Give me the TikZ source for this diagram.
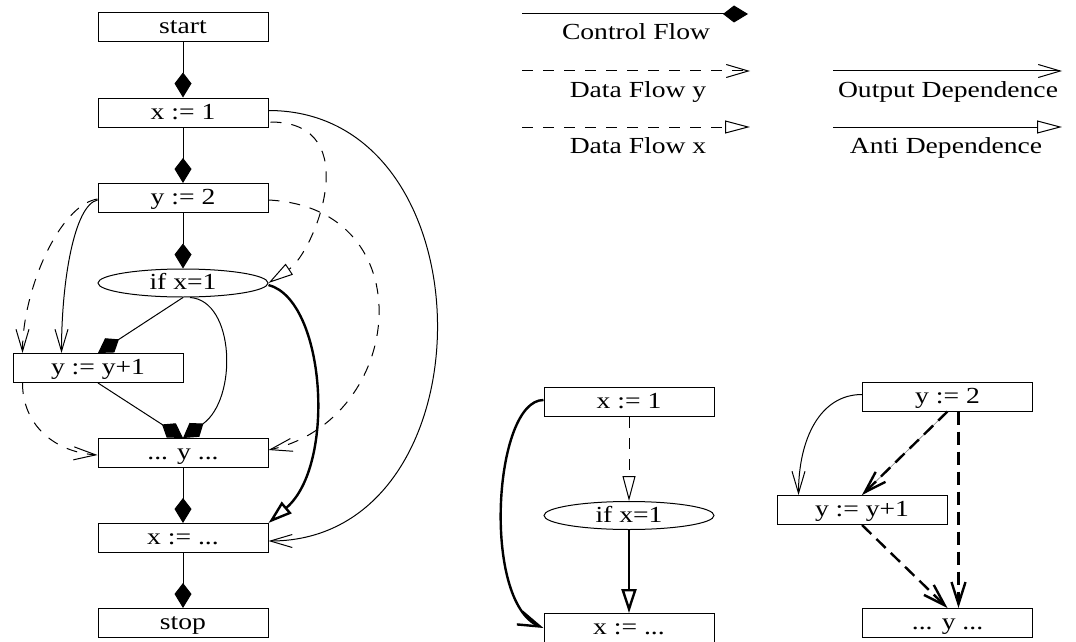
\documentclass[tikz,border=0pt]{standalone}
\usepackage{fontspec}
\setmainfont{Liberation Serif}[FakeStretch=1.2]
\usetikzlibrary{arrows.meta,shapes.geometric,calc}

\tikzset{
  stmt/.style={draw, line width=1pt, rectangle, minimum width=170pt, minimum height=29pt,
    inner sep=0pt, text height=16pt, text depth=3pt},
  cond/.style={draw, line width=1pt, ellipse, minimum width=170pt, minimum height=28pt,
    inner sep=0pt, text height=16pt, text depth=3pt},
  legendtext/.style={inner sep=0pt, text height=16pt, text depth=3pt},
  ctrl/.style={line width=1pt, -{Kite[length=25pt,width=17pt,inset=11pt]}},
  dfy/.style={line width=1pt, dash pattern=on 11pt off 10pt, -{Straight Barb[length=22pt,width=13pt]}},
  dfx/.style={line width=1pt, dash pattern=on 11pt off 10pt, -{Triangle[open,length=25pt,width=13pt]}},
  outdep/.style={line width=1pt, -{Straight Barb[length=22pt,width=13pt]}},
  antidep/.style={line width=1pt, -{Triangle[open,length=25pt,width=13pt]}},
  thickanti/.style={line width=2.4pt, -{Triangle[open,length=24pt,width=15pt]}},
  thickout/.style={line width=2.4pt, -{Straight Barb[length=22pt,width=14pt]}},
  thickdfy/.style={line width=2.4pt, dash pattern=on 13pt off 7pt, -{Straight Barb[length=22pt,width=14pt]}},
}

\begin{document}
\begin{tikzpicture}[x=1pt,y=-1pt,font=\fontsize{23pt}{27pt}\selectfont]
\useasboundingbox (0,0) rectangle (1076,642);

% ---------- full flow graph ----------
\node[stmt] (start) at (183,27) {start};
\node[stmt] (x1) at (183,112.5) {x := 1};
\node[stmt] (y2) at (183,198) {y := 2};
\node[cond] (if) at (183,283) {if x=1};
\node[stmt] (yy) at (98,368) {y := y+1};
\node[stmt] (dy) at (183,453) {... y ...};
\node[stmt] (xd) at (183,538) {x := ...};
\node[stmt] (stop) at (183,623) {stop};

% control flow
\draw[ctrl] (start) -- (x1);
\draw[ctrl] (x1) -- (y2);
\draw[ctrl] (y2) -- (if);
\draw[ctrl] (if.south) -- (yy.north);
\draw[ctrl] ($(if.south)+(7,0)$) .. controls +(45,3) and +(55,-39) .. (dy.north);
\draw[ctrl] (yy.south) -- (dy.north);
\draw[ctrl] (dy) -- (xd);
\draw[ctrl] (xd) -- (stop);

% data flow and dependences
\draw[dfx] ($(x1.east)+(2,9.5)$) .. controls +(97,0) and +(45,-30) .. (if.east);
\draw[dfy] ($(y2.west)+(0,1)$) .. controls +(-38,6) and +(0,-63) .. ($(yy.north west)+(10,0)$);
\draw[outdep] ($(y2.west)+(0,2)$) .. controls +(-23,5) and +(0,-73) .. ($(yy.north west)+(49,0)$);
\draw[dfy] ($(yy.south west)+(10,0)$) .. controls +(0,42) and +(-43,-3) .. ($(dy.west)+(0,2)$);
\draw[dfy] ($(y2.east)+(0,2)$) .. controls +(157,8) and +(137,-30) .. ($(dy.east)+(0,-3)$);
\draw[outdep] ($(x1.east)+(0,-2)$) .. controls +(225,0) and +(225,0) .. ($(xd.east)+(0,3)$);
\draw[thickanti] ($(if.east)+(0,2)$) .. controls +(57,15) and +(68,-58) .. (xd.north east);

% ---------- x dependences ----------
\node[stmt] (mx1) at (629,402) {x := 1};
\node[cond] (mif) at (629,515.5) {if x=1};
\node[stmt] (mxd) at (629,628) {x := ...};
\draw[dfx] (mx1) -- (mif);
\draw[thickanti] (mif) -- (mxd);
\draw[thickout] ($(mx1.west)+(0,-2)$) .. controls +(-50,0) and +(-62,-26) .. (mxd.west);

% ---------- y dependences ----------
\node[stmt] (ry2) at (947.5,396.5) {y := 2};
\node[stmt] (ryy) at (862,510) {y := y+1};
\node[stmt] (rdy) at (947.5,623) {... y ...};
\draw[outdep] ($(ry2.west)+(0,-2)$) .. controls +(-42,0) and +(0,-56) .. ($(ryy.north west)+(22,0)$);
\draw[line width=0.6pt, gray] (ry2.south) -- (ryy.north);
\draw[thickdfy] (ry2.south) -- (ryy.north);
\draw[thickdfy] (ryy.south) -- (rdy.north);
\draw[thickdfy] ($(ry2.south)+(11,0)$) -- ($(rdy.north)+(11,0)$);

% ---------- legend ----------
\coordinate (lc0) at (522,14);  \coordinate (lc1) at (748,14);
\coordinate (ly0) at (522,71);  \coordinate (ly1) at (750,71);
\coordinate (lx0) at (522,127); \coordinate (lx1) at (750,127);
\coordinate (lo0) at (833,71);  \coordinate (lo1) at (1062,71);
\coordinate (la0) at (833,127); \coordinate (la1) at (1062,127);
\draw[ctrl] (lc0) -- (lc1);
\draw[dfy] (ly0) -- (ly1);
\draw[dfx] (lx0) -- (lx1);
\draw[outdep] (lo0) -- (lo1);
\draw[antidep] (la0) -- (la1);
\node[legendtext] (tc) at (636,33.5) {Control Flow};
\node[legendtext] (ty) at (638,91) {Data Flow y};
\node[legendtext] (tx) at (638,147) {Data Flow x};
\node[legendtext] (to) at (948,91) {Output Dependence};
\node[legendtext] (ta) at (946,147) {Anti Dependence};
\end{tikzpicture}
\end{document}
